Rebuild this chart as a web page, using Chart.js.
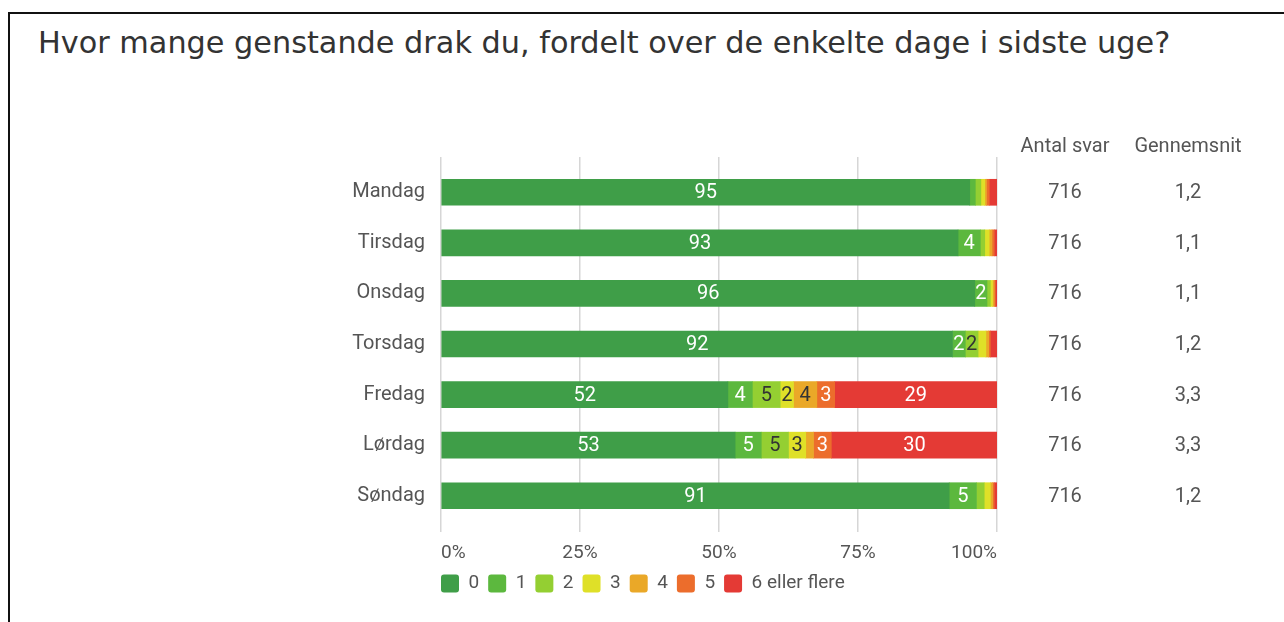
<!DOCTYPE html>
<html>
<head>
<meta charset="utf-8">
<script src="https://cdn.jsdelivr.net/npm/chart.js@4.4.1/dist/chart.umd.min.js"></script>
<style>
  html, body { margin: 0; padding: 0; background: #fff; width: 1284px; height: 622px; overflow: hidden; }
  #frame { position: absolute; left: 8px; top: 12px; width: 1300px; height: 700px;
           border-left: 2px solid #111; border-top: 2px solid #111; }
  #title { position: absolute; left: 38px; top: 25px; font-family: "DejaVu Sans", Verdana, sans-serif;
           font-size: 30.3px; line-height: 36px; color: #333; white-space: nowrap; }
  #wrap { position: absolute; left: 0; top: 0; width: 1284px; height: 622px; }
</style>
</head>
<body>
<div id="frame"></div>
<div id="title">Hvor mange genstande drak du, fordelt over de enkelte dage i sidste uge?</div>
<div id="wrap"><canvas id="c" width="1284" height="622"></canvas></div>
<script>
const days = ["Mandag", "Tirsdag", "Onsdag", "Torsdag", "Fredag", "Lørdag", "Søndag"];
const seriesNames = ["0", "1", "2", "3", "4", "5", "6 eller flere"];
const s0 = [95.1, 93, 96, 92, 51.6, 52.9, 91.4];
const s1 = [1, 4, 2.2, 2.3, 4.4, 4.7, 4.9];
const s2 = [1, 0.8, 0.6, 2.3, 5, 4.9, 1.4];
const s3 = [0.7, 0.8, 0.4, 1.4, 2.4, 3.1, 1.1];
const s4 = [0.3, 0.5, 0.3, 0.5, 4.2, 1.4, 0.4];
const s5 = [0.5, 0.4, 0.2, 0.3, 3.2, 3.2, 0.3];
const s6 = [1.4, 0.5, 0.3, 1.2, 29.2, 29.9, 0.5];
const antalSvar = [716, 716, 716, 716, 716, 716, 716];
const gennemsnit = ["1,2", "1,1", "1,1", "1,2", "3,3", "3,3", "1,2"];
const xTicks = [0, 25, 50, 75, 100];
const colHeaders = ["Antal svar", "Gennemsnit"];

const colors = ["#3f9e48", "#5cb83e", "#94cf32", "#dfe028", "#eaa828", "#ec6d2c", "#e43a35"];
const labelColors = ["#fff", "#fff", "#333", "#333", "#333", "#fff", "#fff"];
const allSeries = [s0, s1, s2, s3, s4, s5, s6];
const FONT = "Roboto";
const TXT = "#555";
const LEG_PAD = 9;

const segLabels = {
  id: "segLabels",
  afterDatasetsDraw(chart) {
    const ctx = chart.ctx;
    ctx.save();
    ctx.font = "20px " + FONT;
    ctx.textAlign = "center";
    ctx.textBaseline = "middle";
    chart.data.datasets.forEach((ds, di) => {
      const meta = chart.getDatasetMeta(di);
      meta.data.forEach((el, i) => {
        const v = Math.round(ds.data[i]);
        if (v < 2) return;
        const p = el.getCenterPoint();
        ctx.fillStyle = labelColors[di];
        ctx.fillText(String(v), p.x, p.y + 1);
      });
    });
    ctx.restore();
  }
};

const sideCols = {
  id: "sideCols",
  afterDraw(chart) {
    const ctx = chart.ctx;
    const y = chart.scales.y;
    ctx.save();
    ctx.font = "20px " + FONT;
    ctx.fillStyle = TXT;
    ctx.textAlign = "center";
    ctx.textBaseline = "middle";
    const cx = [1065, 1188];
    ctx.fillText(colHeaders[0], cx[0], 147);
    ctx.fillText(colHeaders[1], cx[1], 147);
    days.forEach((d, i) => {
      const py = y.getPixelForValue(i);
      ctx.fillText(String(antalSvar[i]), cx[0], py + 1);
      ctx.fillText(gennemsnit[i], cx[1], py + 1);
    });
    ctx.restore();
  }
};

const legendShift = {
  id: "legendShift",
  afterLayout(chart) {
    if (chart.legend) { chart.legend.left -= LEG_PAD; chart.legend.right -= LEG_PAD; }
  }
};

const gridColor = "#d6d6d6";

new Chart(document.getElementById("c"), {
  type: "bar",
  data: {
    labels: days,
    datasets: allSeries.map((d, i) => ({
      label: seriesNames[i],
      data: d,
      backgroundColor: colors[i],
      borderWidth: 0,
      barThickness: 26
    }))
  },
  options: {
    indexAxis: "y",
    responsive: false,
    animation: false,
    layout: { padding: { left: 341, right: 287, top: 157, bottom: 19 } },
    scales: {
      x: {
        stacked: true, min: 0, max: 100,
        afterBuildTicks(s) { s.ticks = xTicks.map(v => ({ value: v })); },
        afterFit(s) { s.height = 44; },
        grid: { color: gridColor, lineWidth: 1.5, tickLength: 11, tickColor: gridColor },
        border: { display: false },
        ticks: { align: "inner", padding: 10, color: TXT, font: { family: FONT, size: 19 },
                 callback: v => v + "%" }
      },
      x2: {
        position: "top", min: 0, max: 100,
        afterBuildTicks(s) { s.ticks = xTicks.map(v => ({ value: v })); },
        afterFit(s) { s.height = 10; },
        grid: { drawOnChartArea: false, lineWidth: 1.5, tickLength: 10, tickColor: gridColor, color: gridColor },
        border: { display: false },
        ticks: { display: false }
      },
      y: {
        stacked: true,
        afterFit(s) { s.width = 100; },
        grid: { display: false, drawTicks: false },
        border: { display: false },
        ticks: { padding: 16, color: TXT, font: { family: FONT, size: 20 } }
      }
    },
    plugins: {
      legend: {
        position: "bottom", align: "start", fullSize: false,
        labels: { boxWidth: 18, boxHeight: 18, useBorderRadius: true, borderRadius: 3,
                  padding: LEG_PAD, color: TXT, font: { family: FONT, size: 19 } }
      },
      tooltip: { enabled: false }
    }
  },
  plugins: [segLabels, sideCols, legendShift]
});
</script>
</body>
</html>
